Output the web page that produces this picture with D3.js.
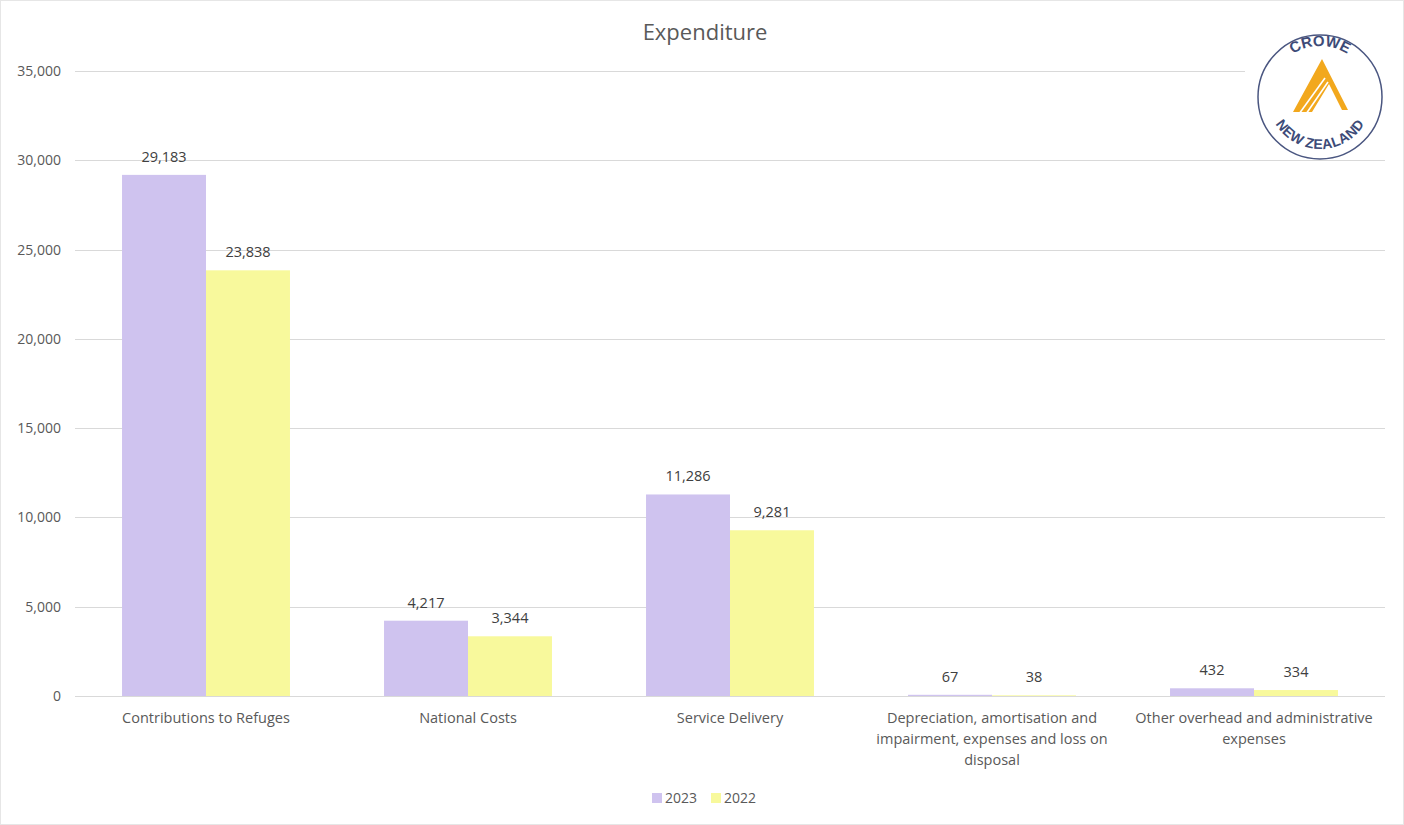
<!DOCTYPE html>
<html><head><meta charset="utf-8">
<script src="https://cdn.jsdelivr.net/npm/d3@7"></script>
<style>body{margin:0;background:#fff;}svg{display:block;font-family:"Open Sans",sans-serif;}</style>
</head><body>
<svg id="c" width="1404" height="825"></svg>
<script>
const categories = ["Contributions to Refuges","National Costs","Service Delivery","Depreciation, amortisation and impairment, expenses and loss on disposal","Other overhead and administrative expenses"];
const seriesNames = ["2023","2022"];
const values2023 = [29183,4217,11286,67,432];
const values2022 = [23838,3344,9281,38,334];
const yTicks = [0,5000,10000,15000,20000,25000,30000,35000];
const colors = ["#cfc3ef","#f8f99c"];

const FONT="'Open Sans',sans-serif";
const svg = d3.select("#c");
const W=1404,H=825;
const m={l:75,r:19,t:71,b:129};
svg.append("rect").attr("x",0.5).attr("y",0.5).attr("width",W-1).attr("height",H-1).attr("fill","#fff").attr("stroke","#e6e6e6");

const x0=d3.scaleBand().domain(categories).range([m.l,W-m.r]).padding(0);
const x1=d3.scaleBand().domain(seriesNames).range([0,x0.bandwidth()]).paddingInner(0).paddingOuter(0.56);
const y=d3.scaleLinear().domain([0,35000]).range([H-m.b,m.t]);

svg.append("g").selectAll("line").data(yTicks).join("line")
 .attr("x1",m.l).attr("x2",W-m.r).attr("y1",d=>Math.round(y(d))+0.5).attr("y2",d=>Math.round(y(d))+0.5)
 .attr("stroke","#d9d9d9").attr("stroke-width",1);

const yAxis=d3.axisLeft(y).tickValues(yTicks).tickFormat(d3.format(",")).tickSize(0).tickPadding(14);
const ga=svg.append("g").attr("transform",`translate(${m.l},0)`).call(yAxis);
ga.select(".domain").remove();
ga.selectAll("text").attr("font-size",14).attr("fill","#595959").attr("font-family",FONT);

const data=categories.map((c,i)=>({cat:c,vals:[{s:"2023",v:values2023[i]},{s:"2022",v:values2022[i]}]}));
const g=svg.append("g").selectAll("g").data(data).join("g").attr("transform",d=>`translate(${x0(d.cat)},0)`);
g.selectAll("rect").data(d=>d.vals).join("rect")
 .attr("x",d=>x1(d.s)).attr("width",x1.bandwidth())
 .attr("y",d=>y(d.v)).attr("height",d=>y(0)-y(d.v))
 .attr("fill",(d,i)=>colors[i]);
g.selectAll("text").data(d=>d.vals).join("text")
 .attr("x",d=>x1(d.s)+x1.bandwidth()/2).attr("y",d=>y(d.v)-13)
 .attr("text-anchor","middle").attr("font-size",14.5).attr("fill","#404040")
 .text(d=>d3.format(",")(d.v));

function wrap(text,width){
  const words=text.split(/\s+/);const lines=[];let line=[];
  const tmp=svg.append("text").attr("font-size",14.5).attr("visibility","hidden");
  words.forEach(w=>{line.push(w);tmp.text(line.join(" "));
    if(tmp.node().getComputedTextLength()>width&&line.length>1){line.pop();lines.push(line.join(" "));line=[w];}});
  lines.push(line.join(" "));tmp.remove();return lines;
}
categories.forEach(c=>{
  const lines=wrap(c,250);
  const t=svg.append("text").attr("text-anchor","middle").attr("font-size",14.5).attr("fill","#595959");
  lines.forEach((l,i)=>t.append("tspan").attr("x",x0(c)+x0.bandwidth()/2).attr("y",723+i*21).text(l));
});

svg.append("text").attr("x",705).attr("y",40).attr("text-anchor","middle").attr("font-size",22).attr("fill","#595959").text("Expenditure");

const lg=svg.append("g");
const lx=[652,711];
seriesNames.forEach((s,i)=>{
  lg.append("rect").attr("x",lx[i]).attr("y",793).attr("width",10).attr("height",10).attr("fill",colors[i]);
  lg.append("text").attr("x",lx[i]+13).attr("y",803).attr("font-size",14).attr("fill","#595959").text(s);
});

// logo
const logo=svg.append("g").attr("transform","translate(1320,97)");
logo.append("rect").attr("x",-75).attr("y",-58).attr("width",150).attr("height",116).attr("fill","#fff");
logo.append("circle").attr("r",62).attr("fill","#fff").attr("stroke","#4a5680").attr("stroke-width",1.5);
const defs=svg.append("defs");
defs.append("path").attr("id","topArc").attr("d","M -51 0 A 51 51 0 0 1 51 0");
defs.append("path").attr("id","botArc").attr("d","M -52 0 A 52 52 0 0 0 52 0");
logo.append("text").attr("font-size",15).attr("font-weight","bold").attr("fill","#3d4b78").attr("font-family","'Liberation Sans',Arial,sans-serif")
 .append("textPath").attr("href","#topArc").attr("startOffset","50%").attr("text-anchor","middle").text("CROWE");
logo.append("text").attr("font-size",14).attr("font-weight","bold").attr("fill","#3d4b78").attr("font-family","'Liberation Sans',Arial,sans-serif")
 .attr("letter-spacing",0.3)
 .append("textPath").attr("href","#botArc").attr("startOffset","50%").attr("text-anchor","middle").text("NEW ZEALAND");
logo.append("path").attr("d","M 2 -38 L 28 13 L 22 13 L 9 -13 L -8 15 L -27 15 Z").attr("fill","#f2a81d");
logo.append("line").attr("x1",5).attr("y1",-19).attr("x2",-21).attr("y2",17).attr("stroke","#fff").attr("stroke-width",1.6);
logo.append("line").attr("x1",8).attr("y1",-15).attr("x2",-14).attr("y2",17).attr("stroke","#fff").attr("stroke-width",1.6);
</script>
</body></html>
